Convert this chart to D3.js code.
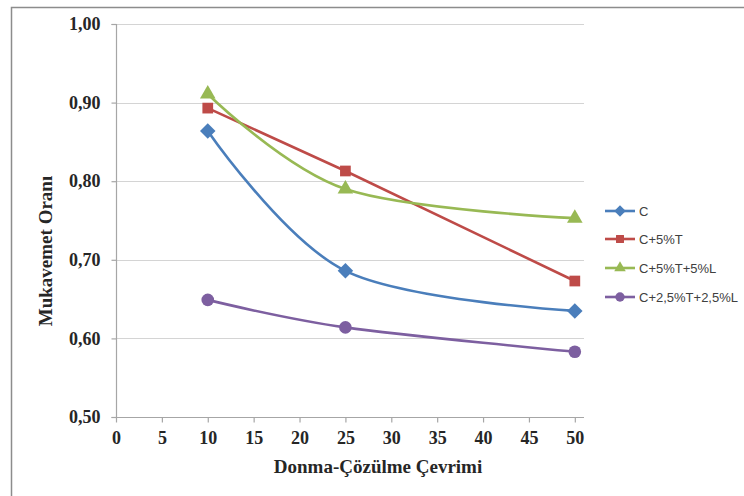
<!DOCTYPE html>
<html><head><meta charset="utf-8">
<script src="https://cdn.jsdelivr.net/npm/d3@7"></script>
<style>html,body{margin:0;padding:0;background:#fff;}svg{display:block;}</style>
</head><body>
<svg id="c" width="744" height="496"></svg>
<script>
const cycles = [10, 25, 50];
const seriesNames = ["C", "C+5%T", "C+5%T+5%L", "C+2,5%T+2,5%L"];
const valC = [0.864, 0.686, 0.635];
const valC5T = [0.893, 0.813, 0.673];
const valC5T5L = [0.911, 0.790, 0.753];
const valC25 = [0.649, 0.614, 0.583];
const xTicks = [0,5,10,15,20,25,30,35,40,45,50];
const yTicks = [0.5,0.6,0.7,0.8,0.9,1.0];

const colors = ["#4a7ebb", "#be4b48", "#98b954", "#7d5fa0"];
const squareDiamond = {draw(ctx, size){const r=Math.sqrt(size/2);ctx.moveTo(0,-r);ctx.lineTo(r,0);ctx.lineTo(0,r);ctx.lineTo(-r,0);ctx.closePath();}};
const symbols = [squareDiamond, d3.symbolSquare, d3.symbolTriangle, d3.symbolCircle];
const symSizes = [120, 115, 105, 125];
const smooth = [true, false, true, true];
const allVals = [valC, valC5T, valC5T5L, valC25];

const svg = d3.select("#c");
// outer frame
svg.append("path").attr("d","M11.5,496 L11.5,7.5 L744,7.5").attr("fill","none").attr("stroke","#8c8c8c").attr("stroke-width",1.5);

const x = d3.scaleLinear().domain([0, 51]).range([116, 584]);
const y = d3.scaleLinear().domain([0.5, 1.0]).range([417, 24]);

// gridlines
svg.append("g").selectAll("line").data(yTicks.filter(d=>d>0.5)).join("line")
  .attr("x1",116).attr("x2",584).attr("y1",d=>Math.round(y(d))+0.5).attr("y2",d=>Math.round(y(d))+0.5)
  .attr("stroke","#d4d4d4").attr("stroke-width",1.2);

const serif = "'Liberation Serif','Times New Roman',serif";
const yAxis = svg.append("g").attr("transform","translate(116.5,0)")
  .call(d3.axisLeft(y).tickValues(yTicks).tickSize(5).tickPadding(11).tickFormat(d=>d3.format(".2f")(d).replace(".",",")));
const xAxis = svg.append("g").attr("transform","translate(0,417.5)")
  .call(d3.axisBottom(x).tickValues(xTicks).tickSize(5).tickPadding(9).tickSizeOuter(0));
[yAxis,xAxis].forEach(a=>{
  a.select(".domain").attr("stroke","#a6a6a6").attr("stroke-width",1.2);
  a.selectAll(".tick line").attr("stroke","#a6a6a6").attr("stroke-width",1.2);
  a.selectAll("text").attr("font-family",serif).attr("font-weight","bold").attr("font-size",18).attr("fill","#262626");
});
yAxis.select(".domain").attr("d","M-5,24.5H0V417.5H-5");
xAxis.select(".domain").attr("d","M116,0H584");

// axis titles
svg.append("text").attr("x",378).attr("y",473).attr("text-anchor","middle")
  .attr("font-family",serif).attr("font-weight","bold").attr("font-size",19).attr("fill","#262626")
  .text("Donma-Çözülme Çevrimi");
svg.append("text").attr("transform","translate(52,251) rotate(-90)").attr("text-anchor","middle")
  .attr("font-family",serif).attr("font-weight","bold").attr("font-size",19).attr("fill","#262626")
  .text("Mukavemet Oranı");

// series
allVals.forEach((vals,i)=>{
  const pts = cycles.map((c,j)=>[x(c), y(vals[j])]);
  const line = d3.line().curve(smooth[i] ? d3.curveCardinal.tension(0) : d3.curveLinear);
  svg.append("path").attr("d", line(pts)).attr("fill","none").attr("stroke",colors[i]).attr("stroke-width",2.6);
  svg.append("g").selectAll("path").data(pts).join("path")
    .attr("transform",d=>`translate(${d[0]},${d[1]})`)
    .attr("d", d3.symbol().type(symbols[i]).size(symSizes[i])())
    .attr("fill",colors[i]);
});

// legend
const legY = [211, 239, 268, 297];
seriesNames.forEach((n,i)=>{
  const g = svg.append("g").attr("transform",`translate(0,${legY[i]})`);
  g.append("line").attr("x1",605).attr("x2",635).attr("y1",0).attr("y2",0).attr("stroke",colors[i]).attr("stroke-width",2.6);
  g.append("path").attr("transform","translate(620,0)").attr("d",d3.symbol().type(symbols[i]).size(symSizes[i]*0.55)()).attr("fill",colors[i]);
  g.append("text").attr("x",639).attr("y",4.5).attr("font-family","'Liberation Sans',Arial,sans-serif").attr("font-size",13).attr("fill","#404040").text(n);
});
</script>
</body></html>
